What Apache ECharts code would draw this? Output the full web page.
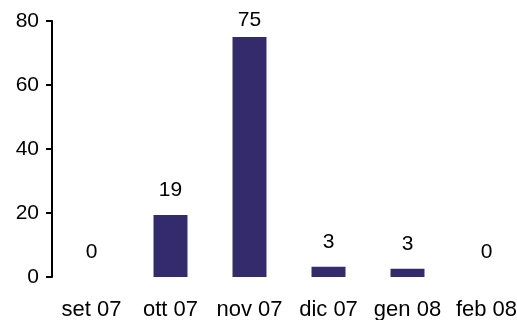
<!DOCTYPE html>
<html><head><meta charset="utf-8">
<script src="https://cdn.jsdelivr.net/npm/echarts@6/dist/echarts.min.js"></script>
<style>html,body{margin:0;padding:0;background:#fff}#c{width:517px;height:320px}</style>
</head><body><div id="c"></div>
<script>
var categories = ['set 07','ott 07','nov 07','dic 07','gen 08','feb 08'];
var values = [0, 19.4, 75, 3.2, 2.6, 0];
var yTicks = {min: 0, max: 80, interval: 20};

var ff = 'Liberation Sans, Arial, sans-serif';
var seriesData = values.map(function(v, i){
  var d = {value: v};
  if (v > 70) d.label = {distance: 6};
  return d;
});
var chart = echarts.init(document.getElementById('c'));
chart.setOption({
  animation: false,
  grid: {left: 52, right: -9, top: 21, bottom: 43, outerBoundsMode: 'none', containLabel: false},
  xAxis: {
    type: 'category', data: categories,
    axisLine: {show: false}, axisTick: {show: false},
    axisLabel: {color: '#000', fontSize: 22, fontFamily: ff, margin: 22, interval: 0}
  },
  yAxis: {
    type: 'value', min: yTicks.min, max: yTicks.max, interval: yTicks.interval,
    axisLine: {show: true, lineStyle: {color: '#000', width: 2}},
    axisTick: {show: true, length: 6, lineStyle: {color: '#000', width: 2}},
    splitLine: {show: false},
    axisLabel: {color: '#000', fontSize: 21, fontFamily: ff, margin: 13}
  },
  series: [{
    type: 'bar', data: seriesData, barWidth: '43%',
    itemStyle: {color: '#332b6c'},
    label: {show: true, position: 'top', distance: 14, color: '#000', fontSize: 21,
      fontFamily: ff,
      formatter: function(p){ return Math.round(p.value); }}
  }]
});
</script></body></html>
